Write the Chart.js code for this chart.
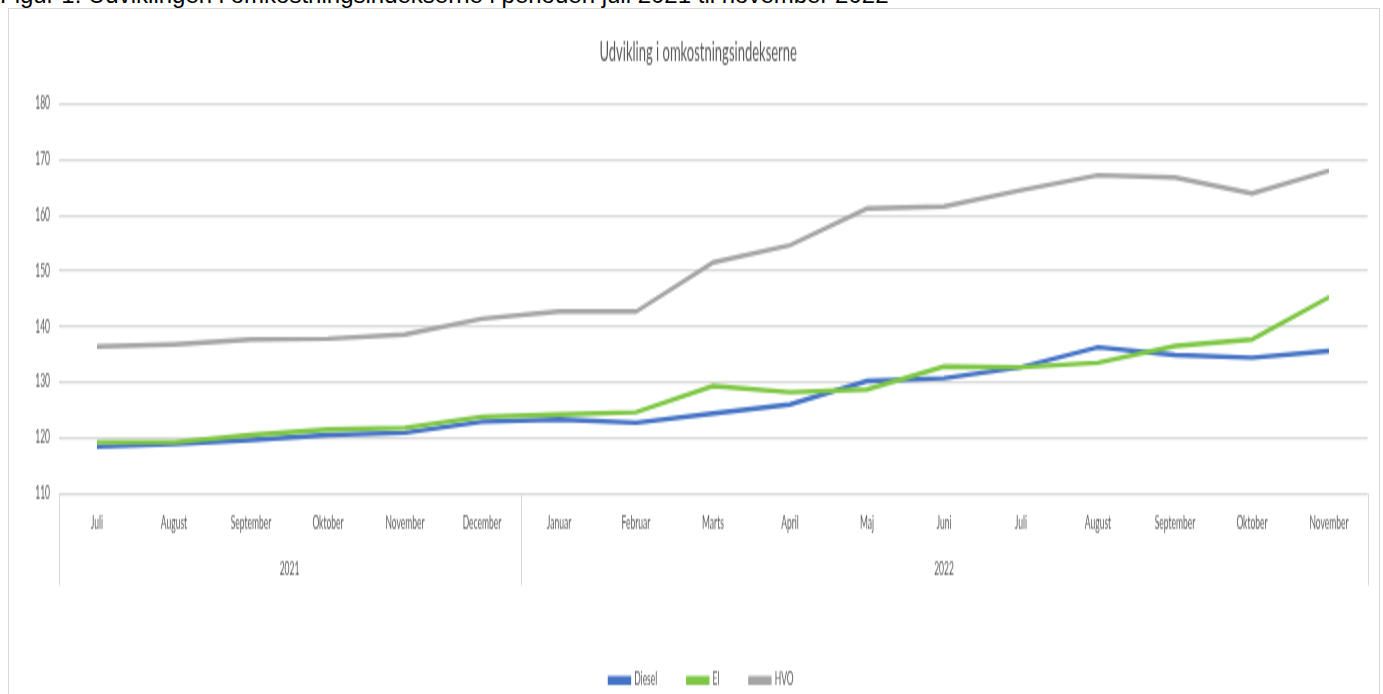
<!DOCTYPE html>
<html>
<head>
<meta charset="utf-8">
<title>Udvikling i omkostningsindekserne</title>
<script src="https://cdn.jsdelivr.net/npm/chart.js@4.4.0/dist/chart.umd.min.js"></script>
<style>
  body { margin: 0; background: #fff; overflow: hidden; }
  #caption {
    position: absolute; left: 0; top: -17px;
    font-family: "Liberation Sans", Arial, sans-serif; font-size: 24px; line-height: 24px;
    color: #000; white-space: nowrap;
  }
  #box {
    position: absolute; left: 8px; top: 8px; width: 1370px; height: 720px;
    border: 1px solid #d9d9d9; overflow: hidden; background: #fff;
  }
  /* the source picture is stretched vertically, so the chart is drawn at half height and scaled */
  #chart { position: absolute; left: 0; top: 0; transform: scaleY(2); transform-origin: 0 0; }
</style>
</head>
<body>
<div id="caption">Figur 1: Udviklingen i omkostningsindekserne i perioden juli 2021 til november 2022</div>
<div id="box"><canvas id="chart" width="1370" height="350"></canvas></div>
<script>
const months = ["Juli", "August", "September", "Oktober", "November", "December",
    "Januar", "Februar", "Marts", "April", "Maj", "Juni", "Juli", "August", "September", "Oktober", "November"];
const years = ["2021", "2022"];
const monthsPerYear = [6, 11];

const diesel = [118.4, 118.9, 119.6, 120.5, 120.9, 122.9, 123.3, 122.7, 124.4, 126.0, 130.2, 130.7, 132.7, 136.3, 134.9, 134.4, 135.6];
const el = [119.2, 119.2, 120.5, 121.5, 121.8, 123.8, 124.2, 124.6, 129.3, 128.2, 128.7, 132.8, 132.7, 133.5, 136.5, 137.7, 145.3];
const hvo = [136.4, 136.8, 137.7, 137.8, 138.6, 141.4, 142.7, 142.7, 151.5, 154.6, 161.2, 161.6, 164.5, 167.2, 166.8, 163.9, 168.0];

const yMin = 110;
const yMax = 180;
const yStep = 10;

const textColor = "#595959";
const gridColor = "#d9d9d9";
const fontFamily = "Lato, 'Open Sans', sans-serif";

// second row of the category axis: year names and the vertical group separators
const yearGroups = {
    id: "yearGroups",
    afterLayout(chart) {
        // title and legend sit a little right of centre in the original
        chart.titleBlock.left += 20;
        chart.legend.left += 26;
    },
    afterDraw(chart) {
        let ctx = chart.ctx;
        let xScale = chart.scales.x;
        let area = chart.chartArea;
        let sepBottom = area.bottom + 46;

        ctx.save();
        ctx.strokeStyle = gridColor;
        ctx.lineWidth = 1;
        ctx.fillStyle = textColor;
        ctx.font = "8.5px " + fontFamily;
        ctx.textAlign = "center";
        ctx.textBaseline = "middle";

        let drawSep = (x) => {
            x = Math.round(x) + 0.5;
            ctx.beginPath();
            ctx.moveTo(x, area.bottom);
            ctx.lineTo(x, sepBottom);
            ctx.stroke();
        };

        drawSep(area.left);
        let start = 0;
        for (let i = 0; i < years.length; i++) {
            let end = start + monthsPerYear[i] - 1;
            let left = xScale.getPixelForValue(start);
            let right = xScale.getPixelForValue(end);
            ctx.fillText(years[i], (left + right) / 2, area.bottom + 38.5);
            if (end + 1 < months.length) {
                drawSep((right + xScale.getPixelForValue(end + 1)) / 2);
            } else {
                drawSep(area.right);
            }
            start = end + 1;
        }
        ctx.restore();
    }
};

new Chart(document.getElementById("chart"), {
    type: "line",
    data: {
        labels: months,
        datasets: [
            { label: "Diesel", data: diesel, borderColor: "#4472c4", backgroundColor: "#4472c4", order: 3 },
            { label: "El", data: el, borderColor: "#7dc744", backgroundColor: "#7dc744", order: 2 },
            { label: "HVO", data: hvo, borderColor: "#a5a5a5", backgroundColor: "#a5a5a5", order: 1 }
        ]
    },
    options: {
        responsive: false,
        animation: false,
        elements: {
            line: { borderWidth: 2.4, tension: 0 },
            point: { radius: 0 }
        },
        layout: { padding: { left: 0, right: 11.5, top: 0, bottom: 0 } },
        scales: {
            x: {
                offset: true,
                grid: { display: false, drawTicks: false },
                border: { display: false },
                ticks: {
                    color: textColor, font: { family: fontFamily, size: 8.5 },
                    padding: 10.4, maxRotation: 0, autoSkip: false
                },
                afterFit: (scale) => { scale.height = 59.25; }
            },
            y: {
                min: yMin,
                max: yMax,
                grid: { color: gridColor, lineWidth: 1.25, drawTicks: false },
                border: { display: false },
                ticks: {
                    stepSize: yStep, color: textColor,
                    font: { family: fontFamily, size: 8.5 }, padding: 8.5
                },
                afterFit: (scale) => { scale.width = 49.5; }
            }
        },
        plugins: {
            title: {
                display: true,
                text: "Udvikling i omkostningsindekserne",
                color: textColor,
                font: { family: fontFamily, size: 13, weight: "normal" },
                padding: { top: 14.2, bottom: 17.7 }
            },
            legend: {
                position: "bottom",
                labels: {
                    color: textColor,
                    font: { family: fontFamily, size: 8.5 },
                    boxWidth: 21,
                    boxHeight: 2,
                    padding: 30,
                    sort: (a, b) => a.datasetIndex - b.datasetIndex
                }
            },
            tooltip: { enabled: false }
        }
    },
    plugins: [yearGroups]
});
</script>
</body>
</html>
